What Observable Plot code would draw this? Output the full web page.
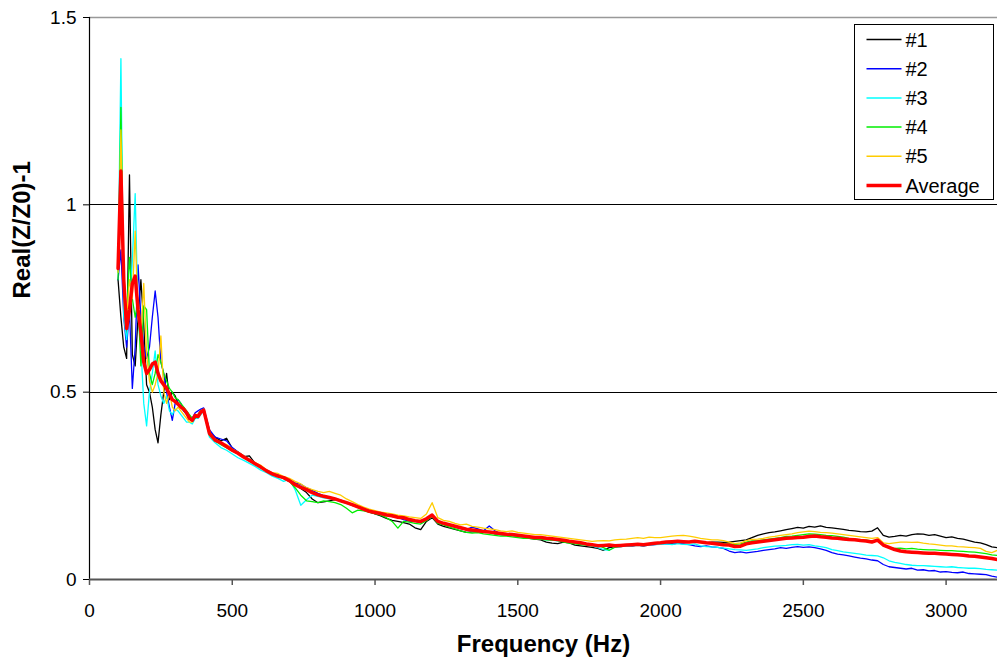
<!DOCTYPE html>
<html>
<head>
<meta charset="utf-8">
<script src="https://cdn.jsdelivr.net/npm/d3@7"></script>
<script src="https://cdn.jsdelivr.net/npm/@observablehq/plot@0.6"></script>
<style>
  html, body { margin: 0; padding: 0; background: #fff; }
  #chart { width: 997px; height: 671px; }
</style>
</head>
<body>
<div id="chart"></div>
<script>
// Frequency (Hz) sample points
const freq = [
  100,110,120,130,140,150,160,170,180,190,200,210,220,230,240,250,260,270,280,290,300,310,320,330,340,350,360,370,380,390,
  400,420,440,460,480,500,520,540,560,580,
  600,620,640,660,680,700,720,740,760,780,
  800,820,840,860,880,900,920,940,960,980,
  1000,1020,1040,1060,1080,1100,1120,1140,1160,1180,
  1200,1220,1240,1260,1280,1300,1320,1340,1360,1380,
  1400,1420,1440,1460,1480,1500,1520,1540,1560,1580,
  1600,1620,1640,1660,1680,1700,1720,1740,1760,1780,
  1800,1820,1840,1860,1880,1900,1920,1940,1960,1980,
  2000,2020,2040,2060,2080,2100,2120,2140,2160,2180,
  2200,2220,2240,2260,2280,2300,2320,2340,2360,2380,
  2400,2420,2440,2460,2480,2500,2520,2540,2560,2580,
  2600,2620,2640,2660,2680,2700,2720,2740,2760,2780,
  2800,2820,2840,2860,2880,2900,2920,2940,2960,2980,
  3000,3020,3040,3060,3080,3100,3120,3140,3160,3180
];

const run1 = [
  0.80,0.70,0.62,0.59,1.08,0.60,0.57,0.70,0.80,0.68,0.52,0.50,0.46,0.40,0.365,0.44,0.50,0.55,0.48,0.50,0.49,0.47,0.46,0.45,0.445,0.435,0.43,0.44,0.44,0.45,
  0.455,0.395,0.38,0.37,0.377,0.35,0.34,0.328,0.33,0.31,
  0.30,0.29,0.28,0.278,0.27,0.262,0.255,0.243,0.232,0.215,
  0.205,0.207,0.21,0.213,0.209,0.205,0.198,0.193,0.186,0.18,
  0.175,0.17,0.163,0.158,0.155,0.152,0.148,0.138,0.133,0.155,
  0.165,0.148,0.142,0.138,0.134,0.13,0.126,0.127,0.128,0.126,
  0.127,0.122,0.12,0.118,0.118,0.115,0.113,0.11,0.108,0.106,
  0.10,0.097,0.096,0.10,0.098,0.092,0.09,0.088,0.086,0.083,
  0.078,0.085,0.087,0.088,0.09,0.09,0.092,0.09,0.093,0.095,
  0.096,0.098,0.097,0.10,0.099,0.10,0.10,0.10,0.098,0.10,
  0.10,0.099,0.10,0.102,0.104,0.106,0.112,0.118,0.122,0.125,
  0.127,0.13,0.133,0.136,0.139,0.137,0.142,0.14,0.143,0.139,
  0.138,0.136,0.134,0.131,0.13,0.128,0.127,0.129,0.138,0.118,
  0.113,0.115,0.118,0.116,0.12,0.122,0.121,0.118,0.12,0.116,
  0.112,0.114,0.11,0.108,0.104,0.10,0.098,0.093,0.087,0.085
];

const run2 = [
  0.80,0.88,0.70,0.62,0.72,0.51,0.62,0.84,0.70,0.62,0.59,0.62,0.70,0.77,0.70,0.58,0.55,0.50,0.46,0.425,0.47,0.48,0.47,0.45,0.44,0.43,0.43,0.445,0.45,0.455,
  0.458,0.40,0.38,0.375,0.37,0.352,0.34,0.33,0.318,0.31,
  0.30,0.292,0.284,0.28,0.272,0.266,0.258,0.254,0.245,0.238,
  0.23,0.224,0.22,0.216,0.212,0.206,0.20,0.195,0.19,0.185,
  0.18,0.176,0.172,0.168,0.166,0.16,0.156,0.155,0.152,0.16,
  0.17,0.153,0.148,0.145,0.14,0.136,0.133,0.14,0.135,0.13,
  0.143,0.13,0.122,0.12,0.12,0.117,0.115,0.114,0.112,0.11,
  0.109,0.108,0.106,0.104,0.10,0.097,0.096,0.093,0.092,0.088,
  0.09,0.088,0.09,0.089,0.091,0.09,0.092,0.09,0.092,0.093,
  0.095,0.096,0.094,0.097,0.095,0.093,0.09,0.088,0.09,0.087,
  0.086,0.083,0.076,0.072,0.074,0.071,0.073,0.075,0.078,0.08,
  0.082,0.085,0.083,0.086,0.088,0.086,0.087,0.085,0.082,0.078,
  0.072,0.068,0.066,0.063,0.06,0.057,0.055,0.052,0.05,0.04,
  0.034,0.032,0.03,0.028,0.03,0.025,0.026,0.023,0.024,0.02,
  0.021,0.019,0.018,0.02,0.016,0.015,0.014,0.013,0.009,0.006
];

const run3 = [
  0.82,1.39,0.70,0.64,0.72,0.85,1.03,0.70,0.62,0.47,0.41,0.50,0.55,0.61,0.52,0.49,0.47,0.49,0.45,0.44,0.455,0.45,0.44,0.43,0.42,0.42,0.415,0.43,0.43,0.44,
  0.45,0.38,0.365,0.352,0.345,0.335,0.325,0.318,0.31,0.302,
  0.292,0.285,0.276,0.27,0.262,0.268,0.24,0.198,0.213,0.225,
  0.222,0.218,0.215,0.213,0.208,0.203,0.198,0.193,0.188,0.183,
  0.18,0.178,0.174,0.17,0.168,0.165,0.162,0.158,0.155,0.16,
  0.168,0.152,0.148,0.144,0.14,0.137,0.134,0.13,0.129,0.127,
  0.125,0.123,0.12,0.118,0.117,0.115,0.113,0.111,0.11,0.108,
  0.106,0.105,0.103,0.102,0.10,0.098,0.096,0.093,0.09,0.085,
  0.08,0.078,0.086,0.088,0.089,0.09,0.091,0.09,0.092,0.093,
  0.094,0.095,0.093,0.096,0.094,0.093,0.095,0.09,0.088,0.087,
  0.086,0.084,0.082,0.08,0.079,0.078,0.08,0.082,0.085,0.087,
  0.089,0.09,0.091,0.093,0.094,0.092,0.093,0.09,0.088,0.085,
  0.08,0.077,0.074,0.072,0.07,0.068,0.065,0.064,0.063,0.058,
  0.05,0.046,0.043,0.04,0.038,0.037,0.037,0.036,0.035,0.034,
  0.033,0.034,0.032,0.031,0.03,0.03,0.029,0.027,0.026,0.025
];

const run4 = [
  0.80,1.26,0.78,0.70,0.86,0.75,0.70,0.74,0.57,0.73,0.72,0.55,0.52,0.55,0.60,0.58,0.55,0.53,0.51,0.50,0.485,0.48,0.47,0.46,0.45,0.44,0.43,0.43,0.44,0.45,
  0.45,0.385,0.37,0.36,0.352,0.343,0.335,0.326,0.316,0.308,
  0.298,0.29,0.281,0.275,0.27,0.262,0.245,0.225,0.21,0.208,
  0.205,0.21,0.208,0.205,0.20,0.19,0.178,0.185,0.183,0.18,
  0.176,0.172,0.165,0.155,0.137,0.155,0.153,0.15,0.148,0.157,
  0.168,0.15,0.146,0.14,0.135,0.13,0.126,0.124,0.125,0.122,
  0.12,0.118,0.116,0.116,0.114,0.112,0.11,0.11,0.108,0.107,
  0.106,0.105,0.104,0.10,0.097,0.095,0.093,0.092,0.09,0.092,
  0.085,0.078,0.086,0.09,0.092,0.091,0.093,0.094,0.095,0.097,
  0.098,0.10,0.10,0.101,0.10,0.10,0.101,0.099,0.098,0.097,
  0.097,0.096,0.095,0.094,0.095,0.10,0.103,0.104,0.106,0.108,
  0.11,0.112,0.115,0.116,0.118,0.12,0.122,0.121,0.12,0.118,
  0.117,0.115,0.113,0.11,0.108,0.106,0.105,0.103,0.104,0.09,
  0.085,0.083,0.084,0.082,0.083,0.081,0.08,0.079,0.079,0.078,
  0.077,0.077,0.076,0.075,0.074,0.073,0.071,0.069,0.066,0.064
];

const run5 = [
  0.82,1.20,0.82,0.70,0.80,0.75,0.93,0.70,0.65,0.79,0.60,0.53,0.50,0.52,0.55,0.65,0.50,0.47,0.50,0.46,0.45,0.46,0.45,0.44,0.43,0.42,0.42,0.44,0.44,0.45,
  0.455,0.395,0.37,0.365,0.36,0.348,0.34,0.33,0.32,0.312,
  0.305,0.293,0.285,0.283,0.275,0.27,0.262,0.255,0.245,0.24,
  0.235,0.232,0.235,0.23,0.225,0.215,0.208,0.20,0.193,0.188,
  0.184,0.18,0.178,0.175,0.172,0.17,0.167,0.165,0.163,0.175,
  0.205,0.165,0.158,0.155,0.15,0.146,0.148,0.142,0.14,0.137,
  0.135,0.133,0.13,0.128,0.13,0.126,0.124,0.122,0.12,0.12,
  0.118,0.116,0.114,0.112,0.11,0.108,0.106,0.104,0.102,0.103,
  0.104,0.103,0.106,0.107,0.108,0.11,0.112,0.11,0.113,0.112,
  0.112,0.114,0.116,0.117,0.118,0.116,0.113,0.11,0.108,0.106,
  0.106,0.104,0.10,0.096,0.098,0.104,0.107,0.108,0.11,0.113,
  0.115,0.118,0.12,0.122,0.125,0.127,0.129,0.128,0.126,0.125,
  0.124,0.122,0.12,0.118,0.116,0.114,0.112,0.11,0.112,0.098,
  0.096,0.098,0.10,0.10,0.099,0.10,0.097,0.095,0.094,0.092,
  0.09,0.09,0.088,0.087,0.086,0.085,0.083,0.075,0.072,0.078
];

const average = [
  0.83,1.09,0.80,0.67,0.72,0.79,0.81,0.72,0.66,0.58,0.55,0.56,0.575,0.58,0.55,0.53,0.52,0.51,0.495,0.48,0.475,0.468,0.46,0.455,0.445,0.43,0.425,0.438,0.435,0.447,
  0.452,0.39,0.372,0.365,0.355,0.345,0.337,0.327,0.318,0.309,
  0.30,0.29,0.282,0.276,0.272,0.264,0.253,0.246,0.24,0.232,
  0.226,0.222,0.219,0.215,0.21,0.205,0.20,0.194,0.188,0.182,
  0.179,0.176,0.172,0.17,0.166,0.165,0.16,0.157,0.155,0.162,
  0.172,0.155,0.15,0.146,0.142,0.138,0.134,0.132,0.13,0.128,
  0.127,0.125,0.123,0.121,0.12,0.118,0.116,0.114,0.112,0.112,
  0.11,0.109,0.107,0.105,0.102,0.10,0.098,0.095,0.093,0.09,
  0.091,0.092,0.09,0.091,0.092,0.093,0.094,0.093,0.095,0.097,
  0.098,0.10,0.101,0.102,0.101,0.10,0.102,0.10,0.098,0.097,
  0.095,0.093,0.092,0.088,0.089,0.095,0.098,0.10,0.102,0.104,
  0.106,0.108,0.11,0.111,0.112,0.113,0.115,0.116,0.114,0.113,
  0.111,0.11,0.108,0.107,0.106,0.104,0.103,0.10,0.105,0.092,
  0.086,0.08,0.076,0.074,0.073,0.072,0.071,0.07,0.07,0.069,
  0.068,0.067,0.066,0.065,0.063,0.062,0.06,0.058,0.056,0.053
];

const seriesNames = ["#1", "#2", "#3", "#4", "#5", "Average"];
const seriesValues = [run1, run2, run3, run4, run5, average];
const seriesColors = ["#000000", "#0000ff", "#00ffff", "#00ee00", "#ffcc00", "#ff0000"];
const seriesWidths = [1.3, 1.3, 1.3, 1.3, 1.3, 3.5];

const xTicks = [0, 500, 1000, 1500, 2000, 2500, 3000];
const yTicks = [0, 0.5, 1, 1.5];
const xTitle = "Frequency (Hz)";
const yTitle = "Real(Z/Z0)-1";

const table = seriesNames.flatMap((name, s) =>
  freq.map((f, i) => ({ series: name, f, v: seriesValues[s][i] }))
);

const lineMarks = seriesNames.map((name, s) =>
  Plot.line(table.filter(d => d.series === name), {
    x: "f", y: "v",
    stroke: seriesColors[s],
    strokeWidth: seriesWidths[s],
    strokeLinejoin: "round"
  })
);

const font = "'Liberation Sans', Arial, sans-serif";

const chart = Plot.plot({
  width: 997,
  height: 671,
  marginLeft: 89,
  marginRight: 0,
  marginTop: 17,
  marginBottom: 92,
  style: { fontFamily: font, fontSize: "19px", background: "#fff", color: "#000" },
  x: { domain: [0, 3180] },
  y: { domain: [0, 1.5] },
  marks: [
    Plot.ruleY([0.5, 1], { stroke: "#000", strokeWidth: 1, shapeRendering: "crispEdges" }),
    Plot.ruleY([1.5], { stroke: "#999", strokeWidth: 1.5 }),
    ...lineMarks,
    Plot.ruleX([0], { stroke: "#000", strokeWidth: 1.2 }),
    Plot.ruleY([0], { stroke: "#555", strokeWidth: 2 }),
    Plot.axisX({ ticks: xTicks, tickSize: 6, tickPadding: 18, label: null, stroke: "#555", strokeWidth: 1.5, fontSize: 19, tickFormat: d => String(d) }),
    Plot.axisY({ ticks: yTicks, tickSize: 6, tickPadding: 7, label: null, tickFormat: d => String(d), fontSize: 19 }),
    Plot.text([xTitle], { frameAnchor: "bottom", dy: 72, fontWeight: "bold", fontSize: 24 }),
    Plot.text([yTitle], { frameAnchor: "left", dx: -67, rotate: -90, fontWeight: "bold", fontSize: 24 })
  ]
});

document.getElementById("chart").appendChild(chart);

// Legend (built from the series arrays)
const svg = d3.select(chart);
const lg = svg.append("g").attr("transform", "translate(854.5,24.5)");
lg.append("rect").attr("width", 139).attr("height", 175)
  .attr("fill", "#fff").attr("stroke", "#000").attr("stroke-width", 1);
seriesNames.forEach((name, i) => {
  const cy = 15 + i * 29.2;
  lg.append("line").attr("x1", 12).attr("x2", 47).attr("y1", cy).attr("y2", cy)
    .attr("stroke", seriesColors[i]).attr("stroke-width", i === 5 ? 3.5 : 1.5);
  lg.append("text").attr("x", 51).attr("y", cy).attr("dy", "0.35em")
    .attr("text-anchor", "start")
    .attr("font-family", font).attr("font-size", 20).attr("fill", "#000")
    .text(name);
});
</script>
</body>
</html>
